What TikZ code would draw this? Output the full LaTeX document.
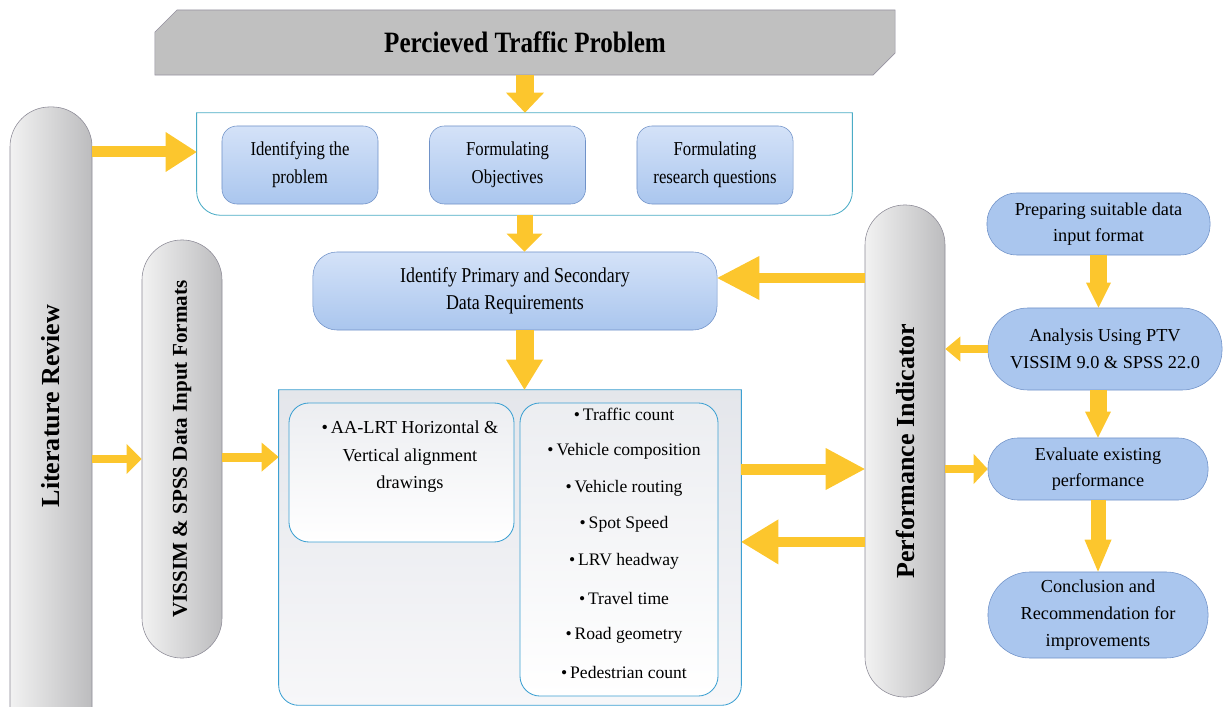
\documentclass[tikz,border=0pt]{standalone}
\usepackage{fontspec}
\setmainfont{Liberation Serif}
\newfontfamily\condfont{Liberation Serif}[FakeStretch=0.85]
\usetikzlibrary{arrows.meta,shapes.misc}

\definecolor{bannerfill}{RGB}{192,192,192}
\definecolor{bannerline}{RGB}{150,145,160}
\definecolor{pilllight}{RGB}{242,242,242}
\definecolor{pilldark}{RGB}{188,188,190}
\definecolor{pillline}{RGB}{140,138,150}
\definecolor{boxblue}{RGB}{170,198,238}
\definecolor{boxbluetop}{RGB}{212,226,248}
\definecolor{boxline}{RGB}{112,146,200}
\definecolor{frameline}{RGB}{75,172,198}
\definecolor{datline}{RGB}{60,160,210}
\definecolor{datfilltop}{RGB}{228,230,235}
\definecolor{datfillbot}{RGB}{247,247,249}
\definecolor{arrowgold}{RGB}{252,198,45}

\begin{document}
\begin{tikzpicture}[%
x=0.025cm, y=-0.025cm,
banner/.style={chamfered rectangle, chamfered rectangle corners={north west,south east},
  chamfered rectangle xsep=2.5mm, chamfered rectangle ysep=3mm, draw=bannerline, fill=bannerfill,
  minimum width=185mm, minimum height=16.25mm, inner sep=0pt,
  font=\condfont\bfseries\fontsize{21}{25}\selectfont},
pill/.style={rectangle, rounded corners=10mm, draw=pillline, left color=pilllight,
  right color=pilldark, minimum width=20mm},
pilltext/.style={rotate=90, font=\bfseries\fontsize{18.5}{22}\selectfont},
bluebox/.style={rectangle, rounded corners=3.75mm, draw=boxline, top color=boxbluetop,
  bottom color=boxblue, minimum width=39mm, minimum height=19.5mm, align=center,
  font=\condfont\fontsize{14}{20}\selectfont},
stadium/.style={rectangle, draw=boxline, fill=boxblue, align=center,
  font=\fontsize{13}{19}\selectfont},
grpframe/.style={draw=frameline, line width=0.6pt},
inbox/.style={rectangle, rounded corners=5mm, draw=datline, top color=datfilltop!70,
  bottom color=white, line width=0.6pt},
itemtext/.style={font=\fontsize{12.5}{15}\selectfont},
yarrow/.style n args={3}{draw=arrowgold, line width=#1,
  -{Triangle[width=#2,length=#3,line width=0pt]}}
]
\useasboundingbox (0,0) rectangle (1227,707);

% top banner
\node[banner] (title) at (525,42.5) {Percieved Traffic Problem};

% problem definition group
\node[minimum width=163.75mm, minimum height=25.5mm, inner sep=0pt] (grp) at (524.5,164) {};
\draw[grpframe, fill=white] (grp.west) [rounded corners=6mm] -- (grp.south west)
  -- (grp.south east) -- (grp.east) [sharp corners] -- (grp.north east) -- (grp.north west) -- cycle;
\node[bluebox] (idp) at (300,165) {Identifying the\\problem};
\node[bluebox] (fob) at (507.5,165) {Formulating\\Objectives};
\node[bluebox] (frq) at (715,165) {Formulating\\research questions};

\node[bluebox, minimum width=101mm, rounded corners=6mm,
  font=\condfont\fontsize{15}{19}\selectfont] (idr) at (515,291)
  {Identify Primary and Secondary\\Data Requirements};

% side pillars
\node[pill, minimum width=20.5mm, minimum height=160.75mm,
  label={[yshift=5.6mm, pilltext]center:Literature Review}] (lit) at (51,428.5) {};
\node[pill, minimum height=104.5mm,
  label={[pilltext, font=\bfseries\fontsize{15}{18}\selectfont]center:VISSIM \& SPSS Data Input Formats}]
  (vis) at (182,449) {};
\node[pill, minimum height=123mm, label={[pilltext]center:Performance Indicator}] (perf) at (905,451) {};

% data collection block
\node[minimum width=115.5mm, minimum height=78.75mm, inner sep=0pt] (dat) at (510,547.5) {};
\draw[draw=datline, line width=0.6pt, top color=datfilltop, bottom color=datfillbot]
  (dat.west) [rounded corners=5mm] -- (dat.south west) -- (dat.south east) -- (dat.east)
  [sharp corners] -- (dat.north east) -- (dat.north west) -- cycle;
\node[inbox, minimum width=56.25mm, minimum height=34.75mm] (aln) at (401.5,472.5) {};
\node[align=center, font=\fontsize{13}{19.5}\selectfont] (alntxt) at (410,457)
  {\textbullet\,AA-LRT Horizontal \&\\Vertical alignment\\drawings};
\node[inbox, minimum width=49.5mm, minimum height=73.25mm] (lst) at (619,549.5) {};
\foreach \itm [count=\i from 0] in {Traffic count, Vehicle composition, Vehicle routing,
  Spot Speed, LRV headway, Travel time, Road geometry, Pedestrian count}
  \node[itemtext] (itm\i) at (624,{414+36.9*\i}) {\textbullet\,\itm};

% analysis column
\node[stadium, minimum width=55.75mm, minimum height=15.5mm, rounded corners=7.5mm] (prep)
  at (1098.5,224) {Preparing suitable data\\input format};
\node[stadium, minimum width=58.5mm, minimum height=20.5mm, rounded corners=10mm] (ana)
  at (1105,349) {Analysis Using PTV\\VISSIM 9.0 \& SPSS 22.0};
\node[stadium, minimum width=55mm, minimum height=15.5mm, rounded corners=7.5mm] (eva)
  at (1098,469) {Evaluate existing\\performance};
\node[stadium, minimum width=55mm, minimum height=21.5mm, rounded corners=10.5mm] (con)
  at (1098,615) {Conclusion and\\Recommendation for\\improvements};

% block arrows
\coordinate (grpin) at ([yshift=3mm]grp.west);
\coordinate (visin) at ([yshift=-2.5mm]vis.west);
\coordinate (datin) at ([yshift=22.6mm]dat.west);
\coordinate (idrin) at ([yshift=3.25mm]idr.east);
\coordinate (perfin) at ([yshift=-4.5mm]perf.west);
\coordinate (datback) at ([yshift=1.4mm]dat.east);
\draw[yarrow={4.5mm}{9.5mm}{5mm}] (title.south) -- (title.south |- grp.north);
\draw[yarrow={4mm}{9mm}{4.5mm}] (grp.south) -- (grp.south |- idr.north);
\draw[yarrow={4.5mm}{9.25mm}{7.5mm}] (grp.south |- idr.south) -- (grp.south |- dat.north);
\draw[yarrow={2.75mm}{10mm}{7.75mm}] (grpin -| lit.east) -- (grpin);
\draw[yarrow={2mm}{7.5mm}{3.75mm}] (visin -| lit.east) -- (visin);
\draw[yarrow={2.25mm}{7.25mm}{4.25mm}] (datin -| vis.east) -- (datin);
\draw[yarrow={2.5mm}{11mm}{10.5mm}] (idrin -| perf.west) -- (idrin);
\draw[yarrow={2.75mm}{10.5mm}{9.75mm}] (perfin -| dat.east) -- (perfin);
\draw[yarrow={2.5mm}{11.25mm}{9.25mm}] (datback -| perf.west) -- (datback);
\draw[yarrow={2mm}{6.25mm}{3.75mm}] (ana.west) -- (ana.west -| perf.east);
\draw[yarrow={2mm}{7.5mm}{3.5mm}] (eva.west -| perf.east) -- (eva.west);
\draw[yarrow={4.25mm}{6.25mm}{6.25mm}] (prep.south) -- (prep.south |- ana.north);
\draw[yarrow={4.25mm}{6.5mm}{6.5mm}] (eva.north |- ana.south) -- (eva.north);
\draw[yarrow={3.75mm}{6.75mm}{8mm}] (eva.south) -- (con.north);
\end{tikzpicture}
\end{document}
